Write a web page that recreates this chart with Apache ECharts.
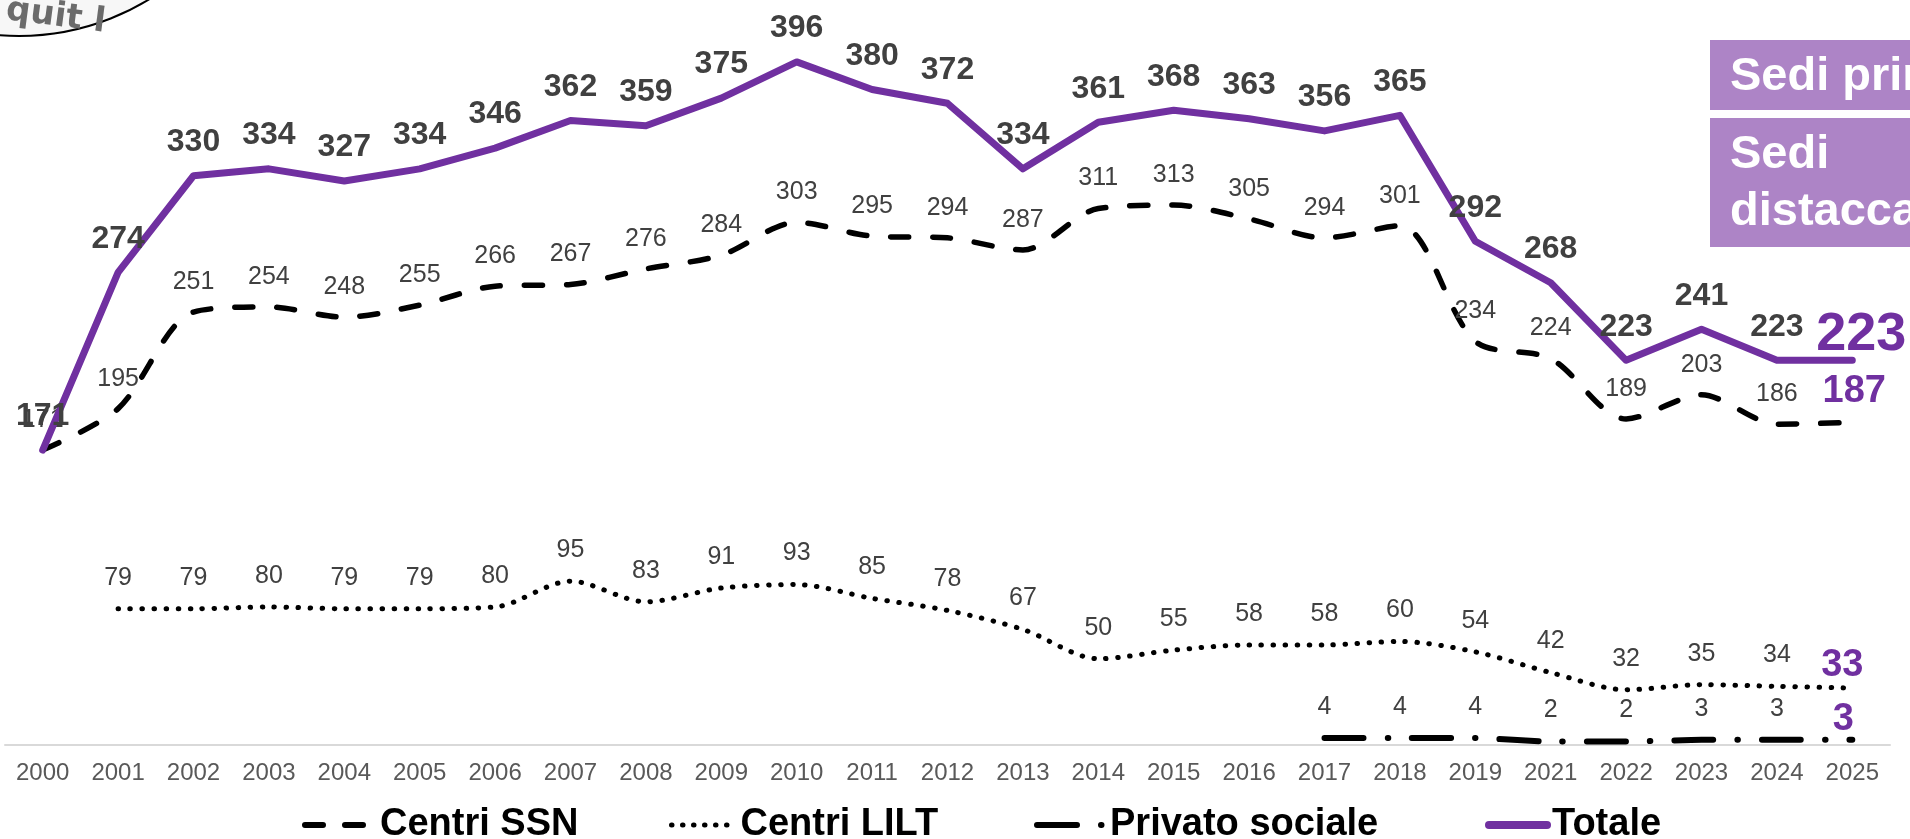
<!DOCTYPE html>
<html>
<head>
<meta charset="utf-8">
<script src="https://cdn.jsdelivr.net/npm/echarts@6/dist/echarts.min.js"></script>
<style>
html,body{margin:0;padding:0;background:#fff;}
#chart{width:1910px;height:839px;}
</style>
</head>
<body>
<div id="chart"></div>
<script>
const years = ['2000','2001','2002','2003','2004','2005','2006','2007','2008','2009','2010','2011','2012','2013','2014','2015','2016','2017','2018','2019','2021','2022','2023','2024','2025'];
const totale = [171,274,330,334,327,334,346,362,359,375,396,380,372,334,361,368,363,356,365,292,268,223,241,223,223];
const centriSSN = [171,195,251,254,248,255,266,267,276,284,303,295,294,287,311,313,305,294,301,234,224,189,203,186,187];
const centriLILT = [null,79,79,80,79,79,80,95,83,91,93,85,78,67,50,55,58,58,60,54,42,32,35,34,33];
const privatoSociale = [null,null,null,null,null,null,null,null,null,null,null,null,null,null,null,null,null,4,4,4,2,2,3,3,3];
const seriesNames = ['Centri SSN','Centri LILT','Privato sociale','Totale'];
const boxTexts = ['Sedi principali','Sedi','distaccate'];

const FONT = "'Liberation Sans', Arial, sans-serif";
const PURPLE = '#7030A0';
const GRAY = '#404040';

function withLast(arr, lastLabel) {
  return arr.map((v, i) => i === arr.length - 1 ? { value: v, label: lastLabel } : v);
}
function lastLabel(size, distance, offset) {
  return { show: true, position: 'top', fontSize: size, fontWeight: 'bold', color: PURPLE, distance: distance, offset: offset, fontFamily: FONT };
}
const hidden = { color: 'rgba(0,0,0,0)', borderWidth: 0 };

const chart = echarts.init(document.getElementById('chart'), null, { renderer: 'canvas' });
const legendText = { color: '#000', fontSize: 38, fontWeight: 'bold', fontFamily: FONT };

chart.setOption({
  animation: false,
  backgroundColor: '#fff',
  grid: { left: 5, right: 20, top: 55, bottom: 94, containLabel: false },
  xAxis: {
    type: 'category', data: years, boundaryGap: true,
    axisLine: { show: true, lineStyle: { color: '#d9d9d9', width: 2 } },
    axisTick: { show: false },
    axisLabel: { interval: 0, color: '#595959', fontSize: 24, margin: 16, fontFamily: FONT },
    splitLine: { show: false }
  },
  yAxis: { type: 'value', min: 0, max: 400, show: false, splitLine: { show: false } },
  legend: [
    { left: 297, top: 801, itemWidth: 64, itemHeight: 12, selectedMode: false,
      data: [{ name: seriesNames[0], lineStyle: { type: [18, 22], width: 6, cap: 'round', color: '#000' } }],
      textStyle: Object.assign({ padding: [0, 0, 0, 6] }, legendText) },
    { left: 664, top: 801, itemWidth: 64, itemHeight: 12, selectedMode: false,
      data: [{ name: seriesNames[1], lineStyle: { type: [0.5, 10.5], width: 5, cap: 'round', color: '#000' } }],
      textStyle: legendText },
    { left: 1029, top: 801, itemWidth: 68, itemHeight: 12, selectedMode: false,
      data: [{ name: seriesNames[2], lineStyle: { type: [40, 24, 0.5, 60], width: 6, cap: 'round', color: '#000' } }],
      textStyle: legendText },
    { left: 1480, top: 801, itemWidth: 58, itemHeight: 12, selectedMode: false,
      data: [{ name: seriesNames[3], lineStyle: { width: 8, cap: 'round', color: PURPLE } }],
      textStyle: legendText }
  ],
  series: [
    {
      name: seriesNames[0], type: 'line', data: withLast(centriSSN, lastLabel(38, 11, [2, 0])),
      smooth: 0.3, symbol: 'circle', symbolSize: 1, itemStyle: hidden, z: 3,
      lineStyle: { color: '#000', width: 5.5, type: [18, 24], cap: 'round' },
      label: { show: true, position: 'top', distance: 17, fontSize: 25, color: GRAY, fontFamily: FONT }
    },
    {
      name: seriesNames[1], type: 'line', data: withLast(centriLILT, lastLabel(38, 3, [-10, 0])),
      smooth: 0.3, symbol: 'circle', symbolSize: 1, itemStyle: hidden, z: 3,
      lineStyle: { color: '#000', width: 5, type: [0.5, 11.5], cap: 'round' },
      label: { show: true, position: 'top', distance: 18, fontSize: 25, color: GRAY, fontFamily: FONT }
    },
    {
      name: seriesNames[2], type: 'line', data: withLast(privatoSociale, lastLabel(38, 1, [-9, 0])),
      smooth: 0.2, symbol: 'circle', symbolSize: 1, itemStyle: hidden, z: 3,
      lineStyle: { color: '#000', width: 6, type: [39, 24, 0.5, 24], cap: 'round' },
      label: { show: true, position: 'top', distance: 18, fontSize: 25, color: GRAY, fontFamily: FONT }
    },
    {
      name: seriesNames[3], type: 'line', data: withLast(totale, lastLabel(54, -2, [9, 0])),
      smooth: false, symbol: 'circle', symbolSize: 1, itemStyle: hidden, z: 4,
      lineStyle: { color: PURPLE, width: 7, cap: 'round', join: 'round' },
      label: { show: true, position: 'top', distance: 17, fontSize: 32, fontWeight: 'bold', color: GRAY, fontFamily: FONT }
    }
  ],
  graphic: [
    { type: 'circle', shape: { cx: 19, cy: -213, r: 249 }, style: { fill: '#f7f7f7', stroke: '#000', lineWidth: 2 }, z: 1 },
    { type: 'text', x: 4, y: 27, rotation: -0.13, z: 2,
      style: { text: 'quit l', fill: '#6b6b6b', font: "bold 34px 'DejaVu Sans', sans-serif", verticalAlign: 'bottom' } },
    { type: 'rect', shape: { x: 1710, y: 40, width: 260, height: 70 }, style: { fill: '#AD84C6' }, z: 5 },
    { type: 'rect', shape: { x: 1710, y: 118, width: 260, height: 129 }, style: { fill: '#AD84C6' }, z: 5 },
    { type: 'text', x: 1730, y: 77, z: 6, style: { text: boxTexts[0], fill: '#fff', font: "bold 47px " + FONT, verticalAlign: 'middle' } },
    { type: 'text', x: 1730, y: 155, z: 6, style: { text: boxTexts[1], fill: '#fff', font: "bold 47px " + FONT, verticalAlign: 'middle' } },
    { type: 'text', x: 1730, y: 212, z: 6, style: { text: boxTexts[2], fill: '#fff', font: "bold 47px " + FONT, verticalAlign: 'middle' } }
  ]
});
</script>
</body>
</html>
